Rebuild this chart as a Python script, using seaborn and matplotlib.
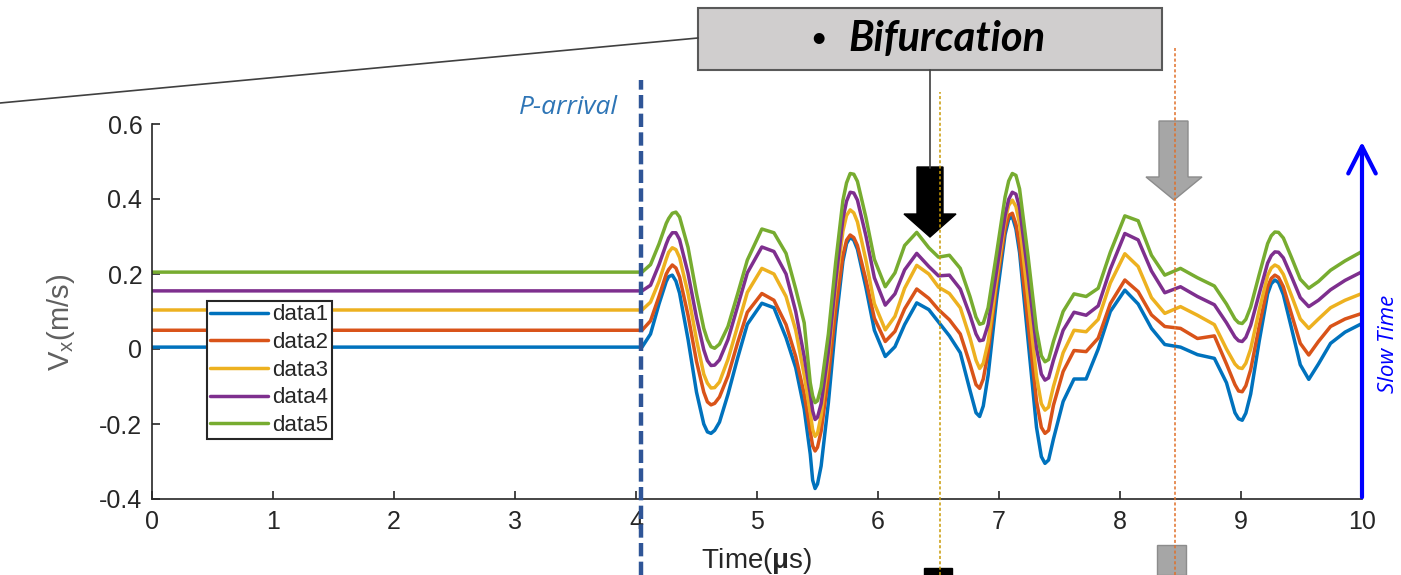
import numpy as np
import pandas as pd
import matplotlib
matplotlib.use('Agg')
import matplotlib.pyplot as plt
import matplotlib.transforms as mtransforms
import seaborn as sns
from matplotlib.patches import Polygon, Rectangle, FancyArrowPatch
from matplotlib.lines import Line2D

# ---- data (time in us, Vx in m/s) ----
time_us = [0, 4.05, 4.12, 4.19, 4.25, 4.30, 4.36, 4.43, 4.50, 4.56, 4.62, 4.69, 4.76, 4.84, 4.92,
           5.04, 5.14, 5.24, 5.32, 5.39, 5.44, 5.48, 5.53, 5.59, 5.65, 5.71, 5.77, 5.83, 5.90, 5.97,
           6.06, 6.14, 6.22, 6.32, 6.42, 6.50, 6.59, 6.68, 6.76, 6.84, 6.91, 6.98, 7.05, 7.11, 7.17,
           7.24, 7.31, 7.38, 7.45, 7.53, 7.62, 7.72, 7.82, 7.92, 8.04, 8.15, 8.26, 8.37, 8.50, 8.64,
           8.78, 8.88, 8.95, 9.01, 9.08, 9.15, 9.22, 9.28, 9.35, 9.42, 9.49, 9.56, 9.64, 9.74, 9.86, 10.0]

data1 = [0.005, 0.005, 0.04, 0.12, 0.18, 0.197, 0.149, 0.026, -0.115, -0.20, -0.225, -0.195, -0.121, -0.024, 0.066,
         0.122, 0.11, 0.03, -0.05, -0.16, -0.28, -0.372, -0.312, -0.143, 0.065, 0.234, 0.298, 0.266, 0.164, 0.05,
         -0.02, 0.006, 0.065, 0.123, 0.105, 0.072, 0.035, -0.01, -0.11, -0.18, -0.07, 0.134, 0.305, 0.353, 0.257,
         0.024, -0.209, -0.305, -0.24, -0.14, -0.08, -0.08, 0.0, 0.10, 0.157, 0.12, 0.055, 0.012, 0.005, -0.015,
         -0.025, -0.09, -0.17, -0.19, -0.12, 0.02, 0.147, 0.184, 0.145, 0.052, -0.042, -0.081, -0.04, 0.015, 0.045, 0.068]

data2 = [0.05, 0.05, 0.075, 0.14, 0.2, 0.224, 0.192, 0.09, -0.033, -0.115, -0.149, -0.128, -0.072, 0.017, 0.098,
         0.148, 0.13, 0.065, -0.02, -0.12, -0.22, -0.272, -0.219, -0.075, 0.105, 0.249, 0.304, 0.276, 0.185, 0.082,
         0.02, 0.047, 0.107, 0.16, 0.135, 0.105, 0.078, 0.04, -0.04, -0.105, -0.009, 0.17, 0.32, 0.362, 0.276,
         0.069, -0.139, -0.225, -0.15, -0.06, -0.004, -0.007, 0.029, 0.121, 0.184, 0.153, 0.091, 0.06, 0.055, 0.028,
         0.035, -0.04, -0.095, -0.114, -0.055, 0.06, 0.166, 0.197, 0.166, 0.09, 0.015, -0.016, 0.02, 0.06, 0.08, 0.095]

data3 = [0.104, 0.104, 0.125, 0.18, 0.24, 0.27, 0.244, 0.148, 0.025, -0.067, -0.104, -0.088, -0.028, 0.061, 0.151,
         0.215, 0.2, 0.14, 0.05, -0.07, -0.17, -0.233, -0.177, -0.025, 0.162, 0.314, 0.371, 0.339, 0.237, 0.121,
         0.051, 0.087, 0.162, 0.223, 0.2, 0.165, 0.148, 0.11, 0.03, -0.052, 0.018, 0.186, 0.343, 0.397, 0.334,
         0.134, -0.073, -0.163, -0.1, -0.01, 0.05, 0.046, 0.079, 0.176, 0.254, 0.22, 0.137, 0.095, 0.113, 0.09,
         0.065, 0.0, -0.04, -0.052, 0.0, 0.103, 0.196, 0.224, 0.199, 0.14, 0.08, 0.055, 0.08, 0.11, 0.13, 0.148]

data4 = [0.155, 0.155, 0.17, 0.225, 0.28, 0.31, 0.292, 0.202, 0.084, -0.002, -0.044, -0.029, 0.025, 0.114, 0.203,
         0.272, 0.26, 0.2, 0.1, -0.02, -0.12, -0.188, -0.146, -0.006, 0.182, 0.347, 0.418, 0.397, 0.302, 0.19,
         0.117, 0.147, 0.211, 0.255, 0.22, 0.195, 0.197, 0.16, 0.09, 0.022, 0.065, 0.208, 0.356, 0.418, 0.377,
         0.199, 0.003, -0.083, -0.03, 0.05, 0.098, 0.09, 0.115, 0.213, 0.308, 0.291, 0.208, 0.15, 0.166, 0.14,
         0.118, 0.07, 0.032, 0.02, 0.063, 0.147, 0.229, 0.259, 0.243, 0.191, 0.137, 0.113, 0.13, 0.158, 0.183, 0.206]

data5 = [0.205, 0.205, 0.225, 0.28, 0.335, 0.362, 0.352, 0.271, 0.148, 0.055, 0.006, 0.013, 0.06, 0.147, 0.237,
         0.32, 0.31, 0.255, 0.16, 0.07, -0.09, -0.143, -0.102, 0.04, 0.23, 0.396, 0.468, 0.447, 0.351, 0.239,
         0.166, 0.203, 0.276, 0.311, 0.27, 0.245, 0.25, 0.215, 0.14, 0.066, 0.11, 0.255, 0.405, 0.468, 0.427,
         0.248, 0.052, -0.034, 0.02, 0.10, 0.147, 0.14, 0.162, 0.258, 0.355, 0.342, 0.25, 0.197, 0.215, 0.19,
         0.168, 0.12, 0.08, 0.068, 0.112, 0.198, 0.281, 0.312, 0.296, 0.242, 0.186, 0.162, 0.18, 0.21, 0.235, 0.26]

# extra readings around the sharp peaks / troughs
time_us_extra = [4.27, 4.33, 4.59, 4.65, 5.46, 5.50, 5.74, 5.80, 6.81, 6.87, 7.08, 7.14, 7.35, 7.41,
                 8.98, 9.04, 9.25, 9.31]
data1_extra = [0.193, 0.181, -0.221, -0.217, -0.35, -0.36, 0.281, 0.29, -0.17, -0.152, 0.346, 0.32,
               -0.287, -0.296, -0.186, -0.171, 0.174, 0.177]
data2_extra = [0.212, 0.216, -0.141, -0.145, -0.258, -0.262, 0.29, 0.297, -0.095, -0.08, 0.356, 0.333,
               -0.209, -0.217, -0.112, -0.098, 0.188, 0.191]
data3_extra = [0.258, 0.265, -0.091, -0.103, -0.215, -0.225, 0.356, 0.363, -0.03, -0.038, 0.383, 0.38,
               -0.146, -0.155, -0.05, -0.038, 0.216, 0.219]
data4_extra = [0.296, 0.31, -0.031, -0.043, -0.165, -0.182, 0.394, 0.416, 0.04, 0.024, 0.399, 0.413,
               -0.067, -0.077, 0.022, 0.031, 0.249, 0.258]
data5_extra = [0.348, 0.365, 0.025, 0.002, -0.125, -0.138, 0.443, 0.466, 0.085, 0.069, 0.448, 0.463,
               -0.018, -0.028, 0.07, 0.079, 0.302, 0.311]

series_names = ['data1', 'data2', 'data3', 'data4', 'data5']
series_colors = ['#0072BD', '#D95319', '#EDB120', '#7E2F8E', '#77AC30']
x_ticks = list(range(11))
y_ticks = [-0.4, -0.2, 0, 0.2, 0.4, 0.6]
y_tick_labels = ['-0.4', '-0.2', '0', '0.2', '0.4', '0.6']
p_arrival_t = 4.04
marker_lines_t = [6.51, 8.455]

# ---- style ----
sns.set_style('ticks')
plt.rcParams['font.family'] = ['Liberation Sans', 'DejaVu Sans']
plt.rcParams['mathtext.fontset'] = 'custom'
plt.rcParams['mathtext.rm'] = 'Liberation Sans'
plt.rcParams['mathtext.it'] = 'Liberation Sans:italic'
plt.rcParams['mathtext.bf'] = 'Liberation Sans:bold'

W, H = 1401, 575
def fx(x):
    return x / W
def fy(y):
    return 1 - y / H

fig = plt.figure(figsize=(W / 100, H / 100), dpi=100)
ax = fig.add_axes([fx(152), 76 / H, 1210 / W, 375 / H])

df_main = pd.DataFrame({'t': time_us, 'data1': data1, 'data2': data2, 'data3': data3,
                        'data4': data4, 'data5': data5})
df_extra = pd.DataFrame({'t': time_us_extra, 'data1': data1_extra, 'data2': data2_extra,
                         'data3': data3_extra, 'data4': data4_extra, 'data5': data5_extra})
df = pd.concat([df_main, df_extra]).sort_values('t')
long_df = df.melt(id_vars='t', var_name='series', value_name='v')
sns.lineplot(data=long_df, x='t', y='v', hue='series', hue_order=series_names,
             palette=series_colors, linewidth=2.5, ax=ax, legend=False,
             solid_joinstyle='round', solid_capstyle='round')

ax.set_xlim(0, 10)
ax.set_ylim(-0.4, 0.6)
ax.set_xticks(x_ticks)
ax.set_yticks(y_ticks)
ax.set_yticklabels(y_tick_labels)
for s in ['top', 'right']:
    ax.spines[s].set_visible(False)
for s in ['left', 'bottom']:
    ax.spines[s].set_color('#262626')
    ax.spines[s].set_linewidth(1.2)
ax.tick_params(direction='in', length=6, width=1.2, colors='#262626', labelsize=18)
ax.tick_params(axis='x', pad=8)
ax.tick_params(axis='y', pad=7)

ax.set_ylabel(r'V$_{\mathrm{x}}$(m/s)', fontsize=21, color='#606060')
ax.yaxis.set_label_coords(-0.062, 0.47)
ax.set_xlabel(r'Time($\mathbf{\mu}$s)', fontsize=20, color='#262626')
ax.xaxis.set_label_coords(0.5, -0.125)

handles = [Line2D([], [], color=c, lw=2.5) for c in series_colors]
leg = ax.legend(handles, series_names, loc='upper left',
                bbox_to_anchor=((207 - 152) / 1210, (499 - 301) / 375),
                frameon=True, fancybox=False, edgecolor='#262626', framealpha=1,
                handlelength=2.6, handletextpad=0.2, labelspacing=0.3, borderpad=0.15,
                borderaxespad=0, fontsize=16)
leg.get_frame().set_linewidth(1.5)

# ---- annotations (slide overlay) ----
# callout box and connectors
fig.add_artist(Line2D([fx(0), fx(698)], [fy(103), fy(38)], transform=fig.transFigure,
                      color='#404040', lw=1.2))
fig.add_artist(Line2D([fx(930), fx(930)], [fy(70), fy(168)], transform=fig.transFigure,
                      color='#404040', lw=1.2))
fig.add_artist(Rectangle((fx(698), fy(70)), (1162 - 698) / W, 62 / H, transform=fig.transFigure,
                         fc='#D0CECE', ec='#595959', lw=1.5))
fig.text(fx(818), fy(38), '•', ha='center', va='center', fontsize=18,
         weight='bold', family=['Lato', 'DejaVu Sans'], color='black')
fig.text(fx(848), fy(39), 'Bifurcation', ha='left', va='center', fontsize=30,
         weight='bold', style='italic', family=['Lato', 'DejaVu Sans'], color='black')

# block arrows
black_arrow = [(917, 167), (943, 167), (943, 214), (956, 214), (930, 237), (904, 214), (917, 214)]
fig.add_artist(Polygon([(fx(x), fy(y)) for x, y in black_arrow], closed=True,
                       transform=fig.transFigure, fc='black', ec='black', lw=1))
gray_arrow = [(1159, 121), (1188, 121), (1188, 177), (1202, 177), (1174, 200), (1146, 177), (1159, 177)]
fig.add_artist(Polygon([(fx(x), fy(y)) for x, y in gray_arrow], closed=True,
                       transform=fig.transFigure, fc='#A6A6A6', ec='#8C8C8C', lw=1))
fig.add_artist(Rectangle((fx(924), fy(575)), 28 / W, 7 / H, transform=fig.transFigure,
                         fc='black', ec='black'))
fig.add_artist(Rectangle((fx(1157), fy(575)), 29 / W, 30 / H, transform=fig.transFigure,
                         fc='#A6A6A6', ec='#8C8C8C'))

# vertical marker lines (x in data units, y in figure pixels)
blend = mtransforms.blended_transform_factory(ax.transData, fig.transFigure)
fig.add_artist(Line2D([p_arrival_t, p_arrival_t], [fy(575), fy(80)], transform=blend,
                      color='#2F5597', lw=3.2, dashes=(3, 1.2), zorder=5))
fig.add_artist(Line2D([marker_lines_t[0]] * 2, [fy(575), fy(92)], transform=blend,
                      color='#C99A06', lw=1.1, dashes=(2, 1.5), zorder=5))
fig.add_artist(Line2D([marker_lines_t[1]] * 2, [fy(575), fy(48)], transform=blend,
                      color='#E0702A', lw=1.1, dashes=(2, 1.5), zorder=5))

fig.text(fx(618), fy(107), 'P-arrival', ha='right', va='center', color='#2E75B6',
         style='italic', family=['Open Sans', 'DejaVu Sans'], fontsize=19)

# slow time arrow
fig.add_artist(FancyArrowPatch((fx(1362), fy(500)), (fx(1362), fy(139)), transform=fig.transFigure,
                               arrowstyle='->,head_length=0.65,head_width=0.33', mutation_scale=30,
                               color='#0000FF', lw=3, zorder=6))
fig.text(fx(1388), fy(344), 'Slow Time', rotation=90, ha='center', va='center', color='#0000FF',
         style='italic', family=['Open Sans', 'DejaVu Sans'], fontsize=16)

fig.savefig('out.png', dpi=100)
